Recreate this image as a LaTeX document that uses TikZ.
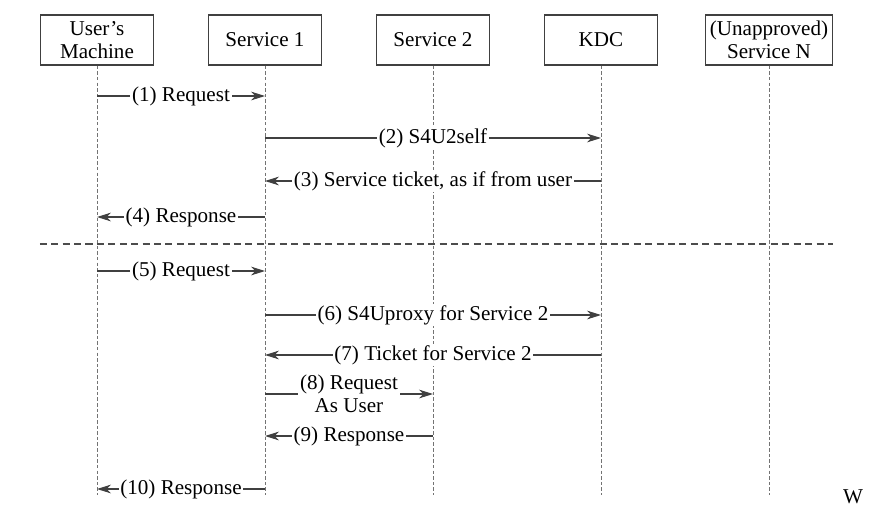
\documentclass[tikz,border=0pt]{standalone}
\usepackage{fontspec}
\setmainfont{Liberation Serif}
\usetikzlibrary{arrows.meta, positioning}

\begin{document}
\begin{tikzpicture} [node distance =3.36 cm, on grid, font=\fontsize{12pt}{13pt}\selectfont, actor/.style ={draw=black!75, line width=0.8pt, minimum width=2.26cm, minimum height=1cm, align=center, inner sep=2.5pt}, life/.style ={draw=black!55, line width=0.4pt, dash pattern=on 2pt off 1.2pt}, msg/.style ={draw=black!75, line width=0.6pt, -{Stealth[length=8pt,width=5pt]}}, lbl/.style ={fill=white, inner sep=1pt, align=center}]
		\useasboundingbox (0,0) rectangle (17.58,-10.38);
		\node[actor] (user) at (1.94,-0.8) {User's\\Machine};
		\node[actor] (svc1) [right=of user] {Service 1};
		\node[actor] (svc2) [right=of svc1] {Service 2};
		\node[actor] (kdc) [right=of svc2] {KDC};
		\node[actor] (svcN) [right=of kdc] {(Unapproved)\\Service N};
		\foreach \n in {user,svc1,svc2,kdc,svcN} {
			\coordinate (\n-end) at (\n |- 0,-9.9);
			\draw[life] (\n.south) -- (\n-end);
			\foreach \r/\y in {1/96,2/138,3/181,4/217,5/271,6/315,7/355,8/394,9/436,10/489} {
				\pgfmathsetmacro{\yy}{-\y/50}
				\coordinate (\n-\r) at (\n |- 0,\yy);
			}
		}
		\coordinate (sepL) at (user.west |- 0,-4.88);
		\coordinate (sepR) at (svcN.east |- 0,-4.88);
		\draw[draw=black!70, line width=0.6pt, dash pattern=on 4pt off 2.5pt] (sepL) -- (sepR);
		\draw[msg] (user-1) -- node[lbl] {(1) Request} (svc1-1);
		\draw[msg] (svc1-2) -- node[lbl] {(2) S4U2self} (kdc-2);
		\draw[msg] (kdc-3) -- node[lbl] {(3) Service ticket, as if from user} (svc1-3);
		\draw[msg] (svc1-4) -- node[lbl] {(4) Response} (user-4);
		\draw[msg] (user-5) -- node[lbl] {(5) Request} (svc1-5);
		\draw[msg] (svc1-6) -- node[lbl] {(6) S4Uproxy for Service 2} (kdc-6);
		\draw[msg] (kdc-7) -- node[lbl] {(7) Ticket for Service 2} (svc1-7);
		\draw[msg] (svc1-8) -- node[lbl] {(8) Request\\As User} (svc2-8);
		\draw[msg] (svc2-9) -- node[lbl] {(9) Response} (svc1-9);
		\draw[msg] (svc1-10) -- node[lbl] {(10) Response} (user-10);
		\node (wmark) at (17.06,-9.94) {W};
	\end{tikzpicture}
\end{document}
